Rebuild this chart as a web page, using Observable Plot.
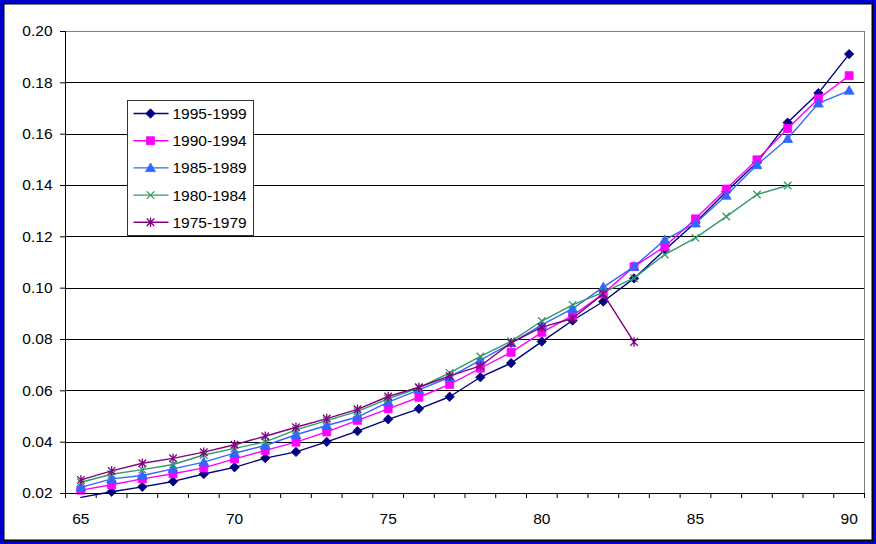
<!DOCTYPE html>
<html>
<head>
<meta charset="utf-8">
<script src="https://cdn.jsdelivr.net/npm/d3@7"></script>
<script src="https://cdn.jsdelivr.net/npm/@observablehq/plot@0.6"></script>
<style>
  html, body { margin: 0; padding: 0; background: #fff; }
  #wrap { position: relative; width: 876px; height: 544px; overflow: hidden; }
  #frame { position: absolute; left: 0; top: 0; width: 876px; height: 544px; box-sizing: border-box;
           border: 3px solid #0000cc; box-shadow: inset 0 0 0 1.5px #000; pointer-events: none; }
  svg { display: block; }
</style>
</head>
<body>
<div id="wrap"><div id="frame"></div></div>
<script>
// Age categories along the x axis
const ages = [65, 66, 67, 68, 69, 70, 71, 72, 73, 74, 75, 76, 77, 78, 79, 80, 81, 82, 83, 84, 85, 86, 87, 88, 89, 90];
const xLabels = [65, 70, 75, 80, 85, 90];
const yTicks = [0.02, 0.04, 0.06, 0.08, 0.10, 0.12, 0.14, 0.16, 0.18, 0.20];

// Rates by age for each five-year period (shorter periods stop early)
const s1995_1999 = [0.0185, 0.0207, 0.0226, 0.0247, 0.0276, 0.0302, 0.0338, 0.0362, 0.0401, 0.0443, 0.0489, 0.0530, 0.0577, 0.0653, 0.0708, 0.0792, 0.0874, 0.0948, 0.1038, 0.1149, 0.1256, 0.1376, 0.1490, 0.1645, 0.1760, 0.1912];
const s1990_1994 = [0.0213, 0.0234, 0.0257, 0.0277, 0.0300, 0.0335, 0.0368, 0.0400, 0.0440, 0.0485, 0.0530, 0.0575, 0.0625, 0.0688, 0.0750, 0.0828, 0.0893, 0.0978, 0.1084, 0.1162, 0.1270, 0.1386, 0.1500, 0.1622, 0.1738, 0.1828];
const s1985_1989 = [0.0224, 0.0257, 0.0270, 0.0296, 0.0322, 0.0357, 0.0387, 0.0429, 0.0465, 0.0498, 0.0556, 0.0604, 0.0653, 0.0720, 0.0786, 0.0857, 0.0920, 0.1004, 0.1084, 0.1188, 0.1253, 0.1361, 0.1480, 0.1582, 0.1720, 0.1770];
const s1980_1984 = [0.0244, 0.0275, 0.0293, 0.0313, 0.0350, 0.0376, 0.0401, 0.0448, 0.0484, 0.0520, 0.0569, 0.0612, 0.0670, 0.0734, 0.0793, 0.0872, 0.0935, 0.0984, 0.1039, 0.1131, 0.1196, 0.1279, 0.1365, 0.1400];
const s1975_1979 = [0.0253, 0.0288, 0.0318, 0.0337, 0.0361, 0.0390, 0.0423, 0.0458, 0.0492, 0.0528, 0.0578, 0.0614, 0.0658, 0.0697, 0.0787, 0.0848, 0.0882, 0.0978, 0.0790];

const seriesNames = ["1995-1999", "1990-1994", "1985-1989", "1980-1984", "1975-1979"];
const seriesValues = [s1995_1999, s1990_1994, s1985_1989, s1980_1984, s1975_1979];
const seriesColors = ["#000080", "#ff00ff", "#3366ff", "#339966", "#800080"];

// Marker shapes (radius recovered from d3's area-based size)
const rad = size => Math.sqrt(size / Math.PI);
const symDiamond = { draw(c, size) { const r = rad(size); c.moveTo(0, -r); c.lineTo(r, 0); c.lineTo(0, r); c.lineTo(-r, 0); c.closePath(); } };
const symSquare = { draw(c, size) { const r = rad(size) * 0.85; c.moveTo(-r, -r); c.lineTo(r, -r); c.lineTo(r, r); c.lineTo(-r, r); c.closePath(); } };
const symTriangle = { draw(c, size) { const r = rad(size) * 1.05; c.moveTo(0, -r); c.lineTo(r, r * 0.75); c.lineTo(-r, r * 0.75); c.closePath(); } };
const symCross = { draw(c, size) { const r = rad(size) * 0.8; c.moveTo(-r, -r); c.lineTo(r, r); c.moveTo(-r, r); c.lineTo(r, -r); } };
const symStar = { draw(c, size) { const r = rad(size) * 0.8, v = rad(size); c.moveTo(-r, -r); c.lineTo(r, r); c.moveTo(-r, r); c.lineTo(r, -r); c.moveTo(0, -v); c.lineTo(0, v); } };
const seriesSymbols = [symDiamond, symSquare, symTriangle, symCross, symStar];
const seriesFilled = [true, true, true, false, false];

const seriesData = seriesValues.map(vals => vals.map((v, i) => ({ age: ages[i], value: v })));

const boundaries = ages.map(a => a - 0.5).concat([ages[ages.length - 1] + 0.5]);

const marks = [
  Plot.ruleY(yTicks.filter(t => t < 0.2), { stroke: "#000", strokeWidth: 1, shapeRendering: "crispEdges" }),
  Plot.ruleY([0.2], { stroke: "#808080", strokeWidth: 1, shapeRendering: "crispEdges" }),
  Plot.ruleX([boundaries[boundaries.length - 1]], { stroke: "#808080", strokeWidth: 1, shapeRendering: "crispEdges" }),
  Plot.axisY({ ticks: yTicks, tickFormat: d3.format(".2f"), tickSize: 5, tickPadding: 8, label: null }),
  Plot.axisX({ ticks: boundaries, tickFormat: () => "", tickSize: 5, label: null }),
  Plot.axisX({ ticks: xLabels, tickFormat: d => String(d), tickSize: 0, tickPadding: 19, label: null })
];

seriesData.forEach((data, k) => {
  marks.push(Plot.line(data, { x: "age", y: "value", stroke: seriesColors[k], strokeWidth: 1.4 }));
  marks.push(Plot.dot(data.filter(d => d.value >= 0.02), {
    x: "age", y: "value", symbol: seriesSymbols[k], r: 4.7,
    fill: seriesFilled[k] ? seriesColors[k] : "none",
    stroke: seriesColors[k], strokeWidth: seriesFilled[k] ? 0.8 : 1.3
  }));
});

marks.push(Plot.ruleX([boundaries[0]], { stroke: "#000", strokeWidth: 1, shapeRendering: "crispEdges" }));
marks.push(Plot.ruleY([0.02], { stroke: "#000", strokeWidth: 1, shapeRendering: "crispEdges" }));

const chart = Plot.plot({
  width: 876,
  height: 544,
  marginLeft: 65,
  marginRight: 12,
  marginTop: 31,
  marginBottom: 51,
  style: { fontFamily: "'Liberation Sans', Arial, sans-serif", fontSize: "15.5px", color: "#000", background: "#fff" },
  x: { type: "linear", domain: [boundaries[0], boundaries[boundaries.length - 1]] },
  y: { type: "linear", domain: [0.02, 0.2] },
  marks
});

document.getElementById("wrap").prepend(chart);

// Legend box drawn inside the plot area
const svg = d3.select(chart);
const lg = svg.append("g").attr("transform", "translate(127.5,100.5)").attr("text-anchor", "start");
lg.append("rect").attr("width", 126).attr("height", 135).attr("fill", "#fff").attr("stroke", "#333").attr("stroke-width", 1);
seriesNames.forEach((name, k) => {
  const y = 13 + k * 27.2;
  const row = lg.append("g").attr("transform", `translate(0,${y})`);
  row.append("line").attr("x1", 6).attr("x2", 41).attr("y1", 0).attr("y2", 0)
    .attr("stroke", seriesColors[k]).attr("stroke-width", 1.4);
  row.append("path").attr("transform", "translate(23,0)")
    .attr("d", d3.symbol().type(seriesSymbols[k]).size(Math.PI * 4.7 * 4.7)())
    .attr("fill", seriesFilled[k] ? seriesColors[k] : "none")
    .attr("stroke", seriesColors[k]).attr("stroke-width", seriesFilled[k] ? 0.8 : 1.3);
  row.append("text").attr("x", 45).attr("y", 0).attr("dy", "0.35em").attr("text-anchor", "start")
    .attr("font-size", "15.5px").attr("fill", "#000").text(name);
});
</script>
</body>
</html>
